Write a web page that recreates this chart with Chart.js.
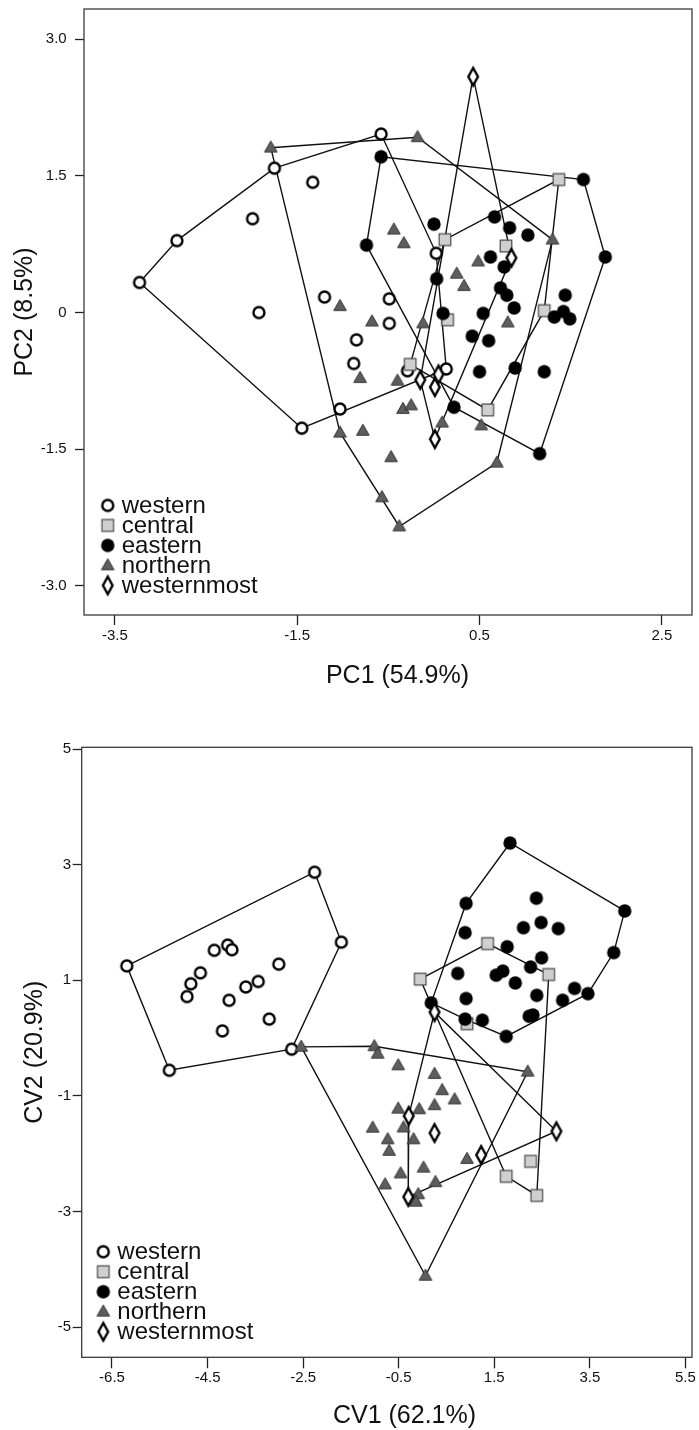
<!DOCTYPE html>
<html>
<head>
<meta charset="utf-8">
<title>PCA and CVA scatter plots</title>
<script src="https://cdn.jsdelivr.net/npm/chart.js@4.4.1/dist/chart.umd.min.js"></script>
<style>
  html, body { margin: 0; padding: 0; background: #fff; }
  canvas { display: block; }
</style>
</head>
<body>
<canvas id="pca-chart" width="699" height="700"></canvas>
<canvas id="cva-chart" width="699" height="730"></canvas>
<script>
const groupNames = ['western', 'central', 'eastern', 'northern', 'westernmost'];

// PCA scores [PC1, PC2]
const pcaWestern = [
  [-3.23, 0.33], [-2.82, 0.79], [-1.99, 1.03], [-1.75, 1.585], [-1.33, 1.43], [-1.92, 0.00],
  [-1.20, 0.17], [-0.58, 1.96], [0.025, 0.65], [-0.49, 0.15], [-0.49, -0.12], [-0.85, -0.30],
  [-0.88, -0.56], [-0.29, -0.64], [0.135, -0.62], [-1.03, -1.06], [-1.45, -1.27]
];
const pcaCentral = [
  [1.37, 1.46], [0.12, 0.80], [0.79, 0.73], [1.21, 0.02], [0.15, -0.08], [-0.26, -0.57], [0.59, -1.07]
];
const pcaEastern = [
  [-0.58, 1.71], [1.64, 1.46], [1.88, 0.61], [-0.74, 0.74], [0.00, 0.97], [0.665, 1.05],
  [0.83, 0.93], [1.03, 0.85], [0.62, 0.61], [0.77, 0.50], [0.03, 0.37], [0.73, 0.27],
  [0.80, 0.19], [0.88, 0.05], [1.44, 0.19], [0.10, -0.01], [0.54, -0.01], [1.42, 0.01],
  [1.32, -0.05], [1.49, -0.07], [0.42, -0.26], [0.60, -0.31], [0.50, -0.65], [0.89, -0.61],
  [1.21, -0.65], [0.22, -1.04], [1.16, -1.55]
];
const pcaNorthern = [
  [-1.79, 1.81], [-1.03, 0.07], [-0.18, 1.925], [1.30, 0.80], [-0.44, 0.91], [-0.33, 0.76],
  [0.485, 0.56], [0.25, 0.425], [0.33, 0.29], [-0.68, -0.10], [-0.12, -0.12], [0.81, -0.11],
  [-1.03, -1.32], [-0.81, -0.72], [-0.40, -0.75], [-0.34, -1.06], [-0.25, -1.02], [-0.78, -1.30],
  [-0.47, -1.59], [0.09, -1.21], [0.52, -1.24], [0.69, -1.65], [-0.57, -2.03], [-0.38, -2.35]
];
const pcaWesternmost = [
  [0.43, 2.59], [0.85, 0.60], [-0.15, -0.74], [0.05, -0.68], [0.01, -0.82], [0.01, -1.39]
];

// CVA scores [CV1, CV2]
const cvaWestern = [
  [-2.26, 2.87], [-1.70, 1.66], [-6.19, 1.25], [-5.30, -0.555], [-2.74, -0.19], [-4.36, 1.52],
  [-4.08, 1.61], [-3.99, 1.53], [-4.65, 1.13], [-4.85, 0.94], [-4.93, 0.72], [-4.05, 0.655],
  [-3.70, 0.885], [-3.44, 0.98], [-3.01, 1.28], [-3.21, 0.33], [-4.19, 0.125]
];
const cvaCentral = [
  [1.36, 1.635], [-0.05, 1.02], [2.64, 1.10], [0.93, 0.25], [1.75, -2.39], [2.26, -2.13], [2.39, -2.72]
];
const cvaEastern = [
  [1.83, 3.375], [4.23, 2.20], [4.00, 1.48], [3.46, 0.77], [1.75, 0.03], [0.18, 0.61],
  [0.91, 2.33], [0.89, 1.825], [2.38, 2.42], [2.11, 1.91], [2.48, 2.00], [2.84, 1.895],
  [1.77, 1.58], [2.49, 1.39], [2.26, 1.23], [0.735, 1.12], [1.54, 1.09], [1.68, 1.16],
  [1.94, 0.955], [0.91, 0.685], [2.39, 0.74], [3.18, 0.86], [2.93, 0.655], [0.89, 0.33],
  [1.25, 0.31], [2.23, 0.38], [2.31, 0.40]
];
const cvaNorthern = [
  [-2.54, -0.15], [-1.01, -0.14], [-0.94, -0.27], [-0.51, -0.47], [0.25, -0.62], [0.41, -0.90],
  [0.67, -1.06], [0.25, -1.16], [-0.51, -1.22], [-0.07, -1.23], [-1.045, -1.55], [-0.40, -1.545],
  [-0.73, -1.75], [-0.19, -1.75], [-0.70, -1.95], [0.93, -2.09], [-0.46, -2.34], [0.02, -2.24],
  [-0.785, -2.53], [0.27, -2.49], [-0.09, -2.70], [-0.14, -2.83], [2.20, -0.58], [0.06, -4.11]
];
const cvaWesternmost = [
  [0.25, 0.45], [-0.29, -1.345], [0.25, -1.64], [1.225, -2.02], [2.80, -1.61], [-0.30, -2.745]
];

const pcaXTicks = [-3.5, -1.5, 0.5, 2.5];
const pcaYTicks = [-3.0, -1.5, 0, 1.5, 3.0];
const cvaXTicks = [-6.5, -4.5, -2.5, -0.5, 1.5, 3.5, 5.5];
const cvaYTicks = [-5, -3, -1, 1, 3, 5];

const FONT = '"Liberation Sans", Arial, sans-serif';
Chart.defaults.font.family = FONT;
Chart.defaults.color = '#111';

// marker images, one per group
function makeMarker(kind) {
  const c = document.createElement('canvas');
  c.width = 28;
  c.height = 28;
  const g = c.getContext('2d');
  g.translate(14, 14);
  g.beginPath();
  if (kind === 'western') {
    g.arc(0, 0, 5.5, 0, Math.PI * 2);
    g.fillStyle = '#fff';
    g.fill();
    g.lineWidth = 2.4;
    g.strokeStyle = '#000';
    g.stroke();
  } else if (kind === 'central') {
    g.rect(-5.8, -5.8, 11.6, 11.6);
    g.fillStyle = '#cfcfcf';
    g.fill();
    g.lineWidth = 1.2;
    g.strokeStyle = '#4a4a4a';
    g.stroke();
  } else if (kind === 'eastern') {
    g.arc(0, 0, 6.7, 0, Math.PI * 2);
    g.fillStyle = '#000';
    g.fill();
  } else if (kind === 'northern') {
    g.moveTo(0, -6.7);
    g.lineTo(6.3, 4.3);
    g.lineTo(-6.3, 4.3);
    g.closePath();
    g.fillStyle = '#5e5e5e';
    g.fill();
    g.lineWidth = 1;
    g.strokeStyle = '#333';
    g.stroke();
  } else {
    g.moveTo(0, -8.8);
    g.lineTo(4.8, 0);
    g.lineTo(0, 8.8);
    g.lineTo(-4.8, 0);
    g.closePath();
    g.fillStyle = '#fff';
    g.fill();
    g.lineWidth = 2.4;
    g.strokeStyle = '#000';
    g.stroke();
  }
  return c;
}
const markers = groupNames.map(makeMarker);

// monotone chain convex hull, closed
function convexHull(points) {
  const pts = points.map(p => ({ x: p[0], y: p[1] }))
    .sort((a, b) => a.x - b.x || a.y - b.y);
  const cross = (o, a, b) => (a.x - o.x) * (b.y - o.y) - (a.y - o.y) * (b.x - o.x);
  const lower = [];
  for (const p of pts) {
    while (lower.length >= 2 && cross(lower[lower.length - 2], lower[lower.length - 1], p) <= 0) lower.pop();
    lower.push(p);
  }
  const upper = [];
  for (let i = pts.length - 1; i >= 0; i--) {
    const p = pts[i];
    while (upper.length >= 2 && cross(upper[upper.length - 2], upper[upper.length - 1], p) <= 0) upper.pop();
    upper.push(p);
  }
  lower.pop();
  upper.pop();
  const hull = lower.concat(upper);
  hull.push(hull[0]);
  return hull;
}

function buildDatasets(groups) {
  const hulls = groups.map((pts, i) => ({
    label: groupNames[i] + ' hull',
    data: convexHull(pts),
    showLine: true,
    pointRadius: 0,
    borderColor: '#111',
    borderWidth: 1.4,
    order: 20 + i,
  }));
  const points = groups.map((pts, i) => ({
    label: groupNames[i],
    data: pts.map(p => ({ x: p[0], y: p[1] })),
    pointStyle: markers[i],
    pointRadius: 6,
    order: 5 - i,
  }));
  return hulls.concat(points);
}

// frame, in-plot legend and x-axis title
const decorPlugin = {
  id: 'decor',
  afterDraw(chart, args, opts) {
    const { ctx, chartArea: a } = chart;
    ctx.save();
    ctx.strokeStyle = '#3a3a3a';
    ctx.lineWidth = 1.3;
    ctx.strokeRect(a.left, a.top, a.right - a.left, a.bottom - a.top);

    ctx.fillStyle = '#111';
    ctx.font = '24px ' + FONT;
    ctx.textAlign = 'left';
    ctx.textBaseline = 'alphabetic';
    markers.forEach((m, i) => {
      const x = a.left + opts.legendLeft;
      const y = a.bottom - opts.legendBottom + i * 20;
      ctx.drawImage(m, x - m.width / 2, y - m.height / 2);
      ctx.fillText(groupNames[i], x + 14, y + 7.6);
    });

    ctx.font = '25px ' + FONT;
    ctx.textAlign = 'center';
    ctx.fillText(opts.xTitle, opts.xTitleX, opts.xTitleY);
    ctx.restore();
  }
};

function makeChart(id, cfg) {
  const ctx = document.getElementById(id).getContext('2d');
  return new Chart(ctx, {
    type: 'scatter',
    data: { datasets: buildDatasets(cfg.groups) },
    options: {
      responsive: false,
      animation: false,
      events: [],
      layout: { padding: cfg.padding },
      scales: {
        x: {
          type: 'linear',
          position: 'bottom',
          bounds: 'data',
          min: cfg.xMin,
          max: cfg.xMax,
          afterBuildTicks: (scale) => { scale.ticks = cfg.xTicks.map(v => ({ value: v })); },
          afterFit: (scale) => {
            scale.height = cfg.xAxisHeight;
            scale.paddingLeft = 0;
            scale.paddingRight = 0;
          },
          ticks: {
            autoSkip: false,
            maxRotation: 0,
            padding: cfg.xTickPad,
            font: { size: 15 },
            color: '#111',
            callback: (v) => v.toFixed(1),
          },
          grid: { drawOnChartArea: false, tickLength: cfg.xTickLen, tickColor: '#222', tickWidth: 1.3 },
          border: { display: false },
        },
        y: {
          type: 'linear',
          position: 'left',
          bounds: 'data',
          min: cfg.yMin,
          max: cfg.yMax,
          afterBuildTicks: (scale) => { scale.ticks = cfg.yTicks.map(v => ({ value: v })); },
          afterFit: (scale) => {
            scale.width = cfg.yAxisWidth;
            scale.paddingTop = 0;
            scale.paddingBottom = 0;
          },
          ticks: {
            autoSkip: false,
            padding: cfg.yTickPad,
            font: { size: 15 },
            color: '#111',
            callback: cfg.yFormat,
          },
          grid: { drawOnChartArea: false, tickLength: 9, tickColor: '#222', tickWidth: 1.3 },
          border: { display: false },
          title: {
            display: true,
            text: cfg.yTitle,
            font: { size: 25 },
            color: '#111',
            padding: { top: cfg.yTitlePad, bottom: 0 },
          },
        },
      },
      plugins: {
        legend: { display: false },
        tooltip: { enabled: false },
        decor: cfg.decor,
      },
    },
    plugins: [decorPlugin],
  });
}

makeChart('pca-chart', {
  groups: [pcaWestern, pcaCentral, pcaEastern, pcaNorthern, pcaWesternmost],
  padding: { top: 9, right: 5, left: 0, bottom: 0 },
  xMin: -3.839, xMax: 2.831, yMin: -3.322, yMax: 3.333,
  xTicks: pcaXTicks, yTicks: pcaYTicks,
  xAxisHeight: 85, yAxisWidth: 84,
  xTickLen: 10, xTickPad: 1.7, yTickPad: 8.3,
  yFormat: (v) => (v === 0 ? '0' : v.toFixed(1)),
  yTitle: 'PC2 (8.5%)', yTitlePad: 10,
  decor: { legendLeft: 23.7, legendBottom: 109.6, xTitle: 'PC1 (54.9%)', xTitleX: 397.5, xTitleY: 683 },
});

makeChart('cva-chart', {
  groups: [cvaWestern, cvaCentral, cvaEastern, cvaNorthern, cvaWesternmost],
  padding: { top: 47.3, right: 6.7, left: 0, bottom: 0 },
  xMin: -7.134, xMax: 5.638, yMin: -5.519, yMax: 5.03,
  xTicks: cvaXTicks, yTicks: cvaYTicks,
  xAxisHeight: 72.7, yAxisWidth: 81.7,
  xTickLen: 11, xTickPad: 0.7, yTickPad: 1.7,
  yFormat: (v) => String(v),
  yTitle: 'CV2 (20.9%)', yTitlePad: 20,
  decor: { legendLeft: 21.6, legendBottom: 105.6, xTitle: 'CV1 (62.1%)', xTitleX: 404.5, xTitleY: 723 },
});
</script>
</body>
</html>
